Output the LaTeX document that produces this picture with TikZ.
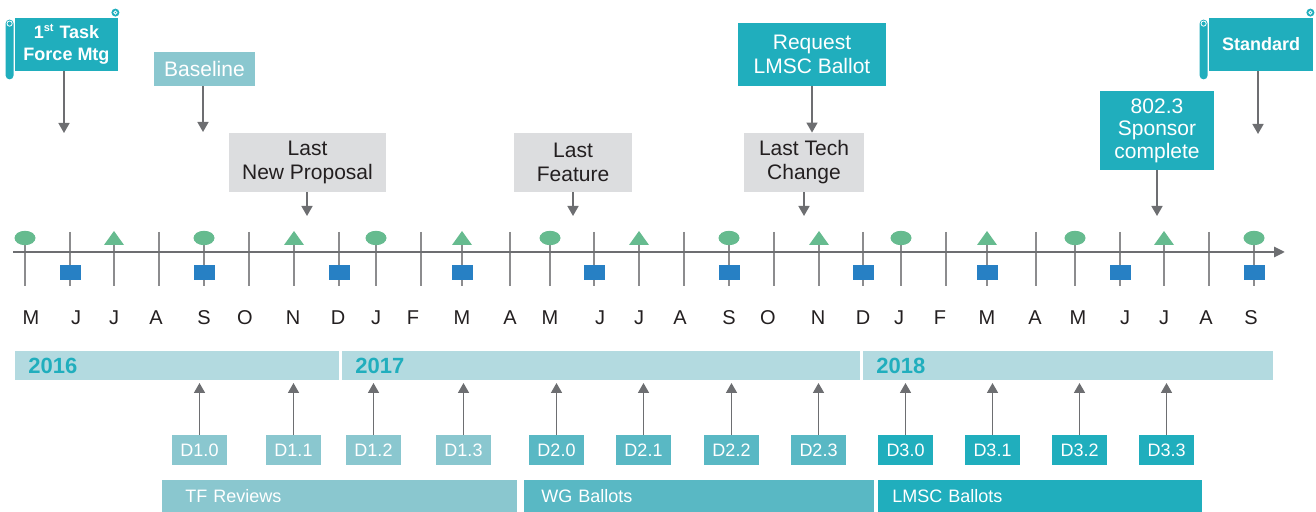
\documentclass[tikz,border=0pt]{standalone}
\usepackage{fontspec}
\setmainfont{Liberation Sans}
\usepackage{xcolor}
\usetikzlibrary{positioning}
\usetikzlibrary{arrows.meta}
\usetikzlibrary{calc}

\definecolor{ieeeTeal}{RGB}{32,174,189}
\definecolor{ieeeMid}{RGB}{89,184,196}
\definecolor{ieeeLight}{RGB}{138,199,207}
\definecolor{ieeePale}{RGB}{179,218,224}
\definecolor{mileGrey}{RGB}{220,221,223}
\definecolor{arrowGrey}{RGB}{109,110,113}
\definecolor{tickGrey}{RGB}{140,140,142}
\definecolor{dotGreen}{RGB}{102,187,143}
\definecolor{dotBlue}{RGB}{39,128,196}
\definecolor{inkDark}{RGB}{35,31,32}

\begin{document}
\begin{tikzpicture}[
  x=0.5pt, y=-0.5pt,
  font=\fontsize{10.5}{12}\selectfont,
  arrow/.style={-{Triangle[width=5.5pt,length=5pt]}, draw=arrowGrey, line width=0.8pt},
  axis/.style={-{Triangle[width=5pt,length=5.5pt]}, draw=arrowGrey, line width=1.4pt},
  tick/.style={draw=tickGrey, line width=0.7pt},
  milestone/.style={fill=mileGrey, text=inkDark, align=center, inner sep=0pt, minimum height=29.5pt},
  event/.style={fill=ieeeTeal, text=white, align=center, inner sep=0pt},
  flagbox/.style={fill=ieeeTeal, text=white, font=\bfseries\fontsize{9}{11}\selectfont,
    align=center, minimum width=51.5pt, minimum height=26.5pt, inner sep=0pt},
  month/.style={text=inkDark, font=\fontsize{10}{12}\selectfont},
  yearbar/.style={fill=ieeePale, text=ieeeTeal, font=\bfseries\fontsize{11}{13}\selectfont,
    anchor=west, align=left, minimum height=14.5pt, inner ysep=0pt, inner xsep=6.5pt},
  draft/.style={text=white, font=\fontsize{9}{11}\selectfont, minimum width=27.5pt, minimum height=15pt, inner sep=0pt},
  phase/.style={text=white, font=\fontsize{9}{11}\selectfont, anchor=north west, align=left,
    minimum height=16pt, inner ysep=0pt}
]
\useasboundingbox (0,0) rectangle (1316,512);

% --- Month grid and time axis ---
\foreach \t/\l/\m in {25/31/M, 70/76/J, 114/114/J, 159/156/A, 204/204/S, 249/245/O, 294/293/N, 339/338/D,
  376/376/J, 421/413/F, 462/462/M, 510/510/A, 550/550/M, 594/600/J, 639/639/J, 684/680/A, 729/729/S,
  774/768/O, 819/818/N, 863/863/D, 901/899/J, 946/940/F, 987/987/M, 1036/1035/A, 1075/1078/M,
  1120/1125/J, 1164/1164/J, 1209/1206/A, 1254/1251/S} {
  \draw[tick] (\t,232) -- (\t,286);
  \node[month] (m\t) at (\l,318) {\m};
}
\coordinate (axL) at (13,252);
\coordinate (axR) at (1285,252);
\draw[axis] (axL) -- (axR);

% --- Markers on the axis ---
\foreach \x in {25,204,376,550,729,901,1075,1254}
  \fill[dotGreen] (\x,238) ellipse [x radius=5.25pt, y radius=3.6pt];
\foreach \x in {114,294,462,639,819,987,1164}
  \fill[dotGreen] (\x-10,245) -- (\x,231) -- (\x+10,245) -- cycle;
\foreach \x in {70,204,339,462,594,729,863,987,1120,1254}
  \fill[dotBlue] (\x-10.5,265) rectangle (\x+10.5,280);

% --- Flags ---
\node[flagbox] (flagA) at (66.5,44.5) {1\textsuperscript{\fontsize{5.5}{6}\selectfont st} Task\\Force Mtg};
\node[flagbox, minimum width=52pt] (flagB) at (1261,44.5) {Standard};
\foreach \f in {flagA, flagB} {
  \fill[ieeeTeal, rounded corners=2pt] ($(\f.north west)+(-9,2)$) rectangle ($(\f.south west)+(-1,8)$);
  \draw[white, line width=0.4pt] ($(\f.north west)+(-5,6)$) circle (1.3pt);
  \fill[ieeeTeal] ($(\f.north east)+(-3,-5)$) circle (2pt);
  \draw[white, line width=0.4pt] ($(\f.north east)+(-3,-5)$) circle (0.8pt);
}

% --- Milestones above the axis ---
\node[event, fill=ieeeLight, minimum width=50.5pt, minimum height=17pt] (base) at (204.5,69) {Baseline};
\node[milestone, minimum width=78.5pt] (lnp) at (307.5,162.5) {Last\\New Proposal};
\node[milestone, minimum width=59pt] (lfeat) at (573,162.5) {Last\\Feature};
\node[milestone, minimum width=60pt] (ltc) at (804,162.5) {Last Tech\\Change};
\node[event, minimum width=74pt, minimum height=31.5pt] (req) at (812,54.5) {Request\\LMSC Ballot};
\node[event, minimum width=57pt, minimum height=39.5pt, font=\fontsize{10.5}{11.3}\selectfont]
  (spons) at (1157,130.5) {802.3\\Sponsor\\complete};

\coordinate (tipA) at (64,133);
\coordinate (tipB) at (203,132);
\coordinate (tipC) at (307,216);
\coordinate (tipD) at (573,216);
\coordinate (tipE) at (804,216);
\coordinate (tipF) at (1157,216);
\coordinate (tipG) at (1258,134);
\draw[arrow] (tipA |- flagA.south) -- (tipA);
\draw[arrow] (tipB |- base.south) -- (tipB);
\draw[arrow] (tipC |- lnp.south) -- (tipC);
\draw[arrow] (lfeat.south) -- (tipD);
\draw[arrow] (ltc.south) -- (tipE);
\draw[arrow] (req.south) -- (ltc.north -| req.south);
\draw[arrow] (spons.south) -- (tipF);
\draw[arrow] (tipG |- flagB.south) -- (tipG);

% --- Years ---
\node[yearbar, minimum width=162pt, text width=149pt] (y16) at (15,365.5) {2016};
\node[yearbar, minimum width=259pt, text width=246pt] (y17) at (342,365.5) {2017};
\node[yearbar, minimum width=205pt, text width=192pt] (y18) at (863,365.5) {2018};

% --- Drafts ---
\coordinate (dtip) at (0,383);
\foreach \x/\lab/\nm/\col in {199.5/D1.0/d10/ieeeLight, 293.5/D1.1/d11/ieeeLight, 373.5/D1.2/d12/ieeeLight,
  463.5/D1.3/d13/ieeeLight, 556.5/D2.0/d20/ieeeMid, 643.5/D2.1/d21/ieeeMid, 731.5/D2.2/d22/ieeeMid,
  818.5/D2.3/d23/ieeeMid, 905.5/D3.0/d30/ieeeTeal, 992.5/D3.1/d31/ieeeTeal, 1079.5/D3.2/d32/ieeeTeal,
  1166.5/D3.3/d33/ieeeTeal} {
  \node[draft, fill=\col] (\nm) at (\x,450) {\lab};
  \draw[arrow] (\nm.north) -- (\nm.north |- dtip);
}

% --- Ballot phases ---
\node[phase, fill=ieeeLight, minimum width=177.5pt, text width=154.5pt, inner xsep=11.5pt] (tfr) at (162,480) {TF Reviews};
\node[phase, fill=ieeeMid, minimum width=175pt, text width=158pt, inner xsep=8.5pt] (wgb) at (524,480) {WG Ballots};
\node[phase, fill=ieeeTeal, minimum width=162pt, text width=148pt, inner xsep=7pt] (lmsc) at (878,480) {LMSC Ballots};

\end{tikzpicture}
\end{document}
